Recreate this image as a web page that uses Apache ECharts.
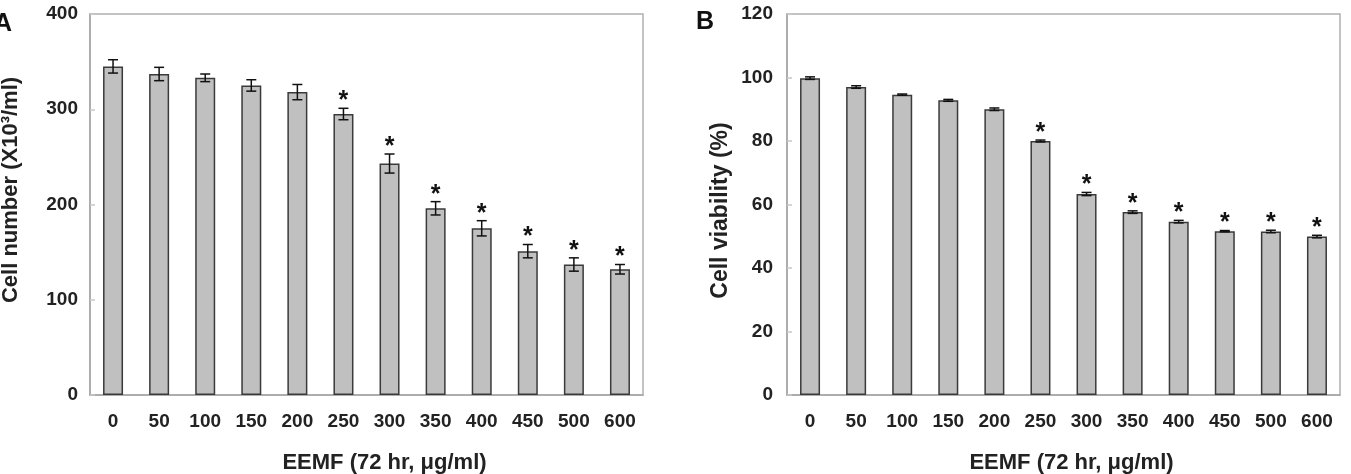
<!DOCTYPE html>
<html>
<head>
<meta charset="utf-8">
<title>EEMF cell number and viability</title>
<script src="https://cdn.jsdelivr.net/npm/echarts@6/dist/echarts.min.js"></script>
<style>
  html, body { margin: 0; padding: 0; background: #fff; }
  #chart { width: 1351px; height: 474px; }
</style>
</head>
<body>
<div id="chart"></div>
<script>
// EEMF dose (72 hr, ug/ml)
const doses = ['0', '50', '100', '150', '200', '250', '300', '350', '400', '450', '500', '600']

// panel A: cell number (x10^3/ml)
const cellNumber = [345, 337, 333, 325, 318, 295, 243, 196, 175, 151, 137, 132]
const cellNumberErr = [7, 7, 4, 6, 8, 6, 10, 7, 8, 7, 7, 5]
const cellNumberSig = [0, 0, 0, 0, 0, 1, 1, 1, 1, 1, 1, 1]

// panel B: cell viability (%)
const viability = [99.8, 97, 94.6, 92.8, 90, 80, 63.3, 57.6, 54.6, 51.6, 51.5, 49.9]
const viabilityErr = [0.4, 0.4, 0.2, 0.3, 0.4, 0.3, 0.5, 0.4, 0.4, 0.2, 0.4, 0.4]
const viabilitySig = [0, 0, 0, 0, 0, 1, 1, 1, 1, 1, 1, 1]

const font = "'Liberation Sans', Arial, sans-serif"
const axisGrey = '#a6a6a6'

// error bars + significance stars
const errorItem = (params, api) => {
  const idx = api.value(0)
  const mean = api.value(1)
  const err = api.value(2)
  const sig = api.value(3)
  const top = api.coord([idx, mean + err])
  const bot = api.coord([idx, mean - err])
  const cap = 5
  const children = [
    { type: 'line', shape: { x1: top[0], y1: top[1], x2: bot[0], y2: bot[1] }, style: { stroke: '#111', lineWidth: 1.5 } },
    { type: 'line', shape: { x1: top[0] - cap, y1: top[1], x2: top[0] + cap, y2: top[1] }, style: { stroke: '#111', lineWidth: 1.5 } },
    { type: 'line', shape: { x1: bot[0] - cap, y1: bot[1], x2: bot[0] + cap, y2: bot[1] }, style: { stroke: '#111', lineWidth: 1.5 } }
  ]
  if (sig) {
    children.push({
      type: 'text',
      style: {
        text: '*', x: top[0], y: top[1] - 7,
        fill: '#111', font: 'bold 25px ' + font,
        align: 'center', verticalAlign: 'middle'
      }
    })
  }
  return { type: 'group', children }
}

const errData = (mean, err, sig) => mean.map((v, i) => [i, v, err[i], sig[i]])

const makeX = (gridIndex, nameShift) => ({
  type: 'category',
  gridIndex,
  data: doses,
  boundaryGap: true,
  name: 'EEMF (72 hr, μg/ml)',
  nameLocation: 'middle',
  nameGap: 57,
  nameTextStyle: { fontFamily: font, fontWeight: 'bold', fontSize: 22, color: '#222', padding: [0, 0, 0, nameShift] },
  axisLine: { lineStyle: { color: axisGrey, width: 1.5 } },
  axisTick: { inside: true, length: 9, lineStyle: { color: '#c8c8c8', width: 1.5 } },
  axisLabel: { margin: 17, fontFamily: font, fontWeight: 'bold', fontSize: 19, color: '#222' },
  splitLine: { show: false }
})

const makeY = (gridIndex, max, interval, name, nameGap, labelMargin, nameSize, namePad) => ({
  type: 'value',
  gridIndex,
  min: 0,
  max,
  interval,
  name,
  nameLocation: 'middle',
  nameGap,
  nameTextStyle: { fontFamily: font, fontWeight: 'bold', fontSize: nameSize, color: '#222', padding: namePad },
  axisLine: { show: true, lineStyle: { color: axisGrey, width: 1.5 } },
  axisTick: { show: true, inside: true, length: 5, lineStyle: { color: '#c8c8c8', width: 1.5 } },
  axisLabel: { margin: labelMargin, fontFamily: font, fontWeight: 'bold', fontSize: 19, color: '#222' },
  splitLine: { show: false }
})

const chart = echarts.init(document.getElementById('chart'))

chart.setOption({
  animation: false,
  backgroundColor: '#fff',
  grid: [
    { left: 90, top: 14, width: 553, height: 381, containLabel: false, outerBoundsMode: 'none', show: true, borderColor: '#b0b0b0', borderWidth: 1.5 },
    { left: 787, top: 14, width: 553, height: 381, containLabel: false, outerBoundsMode: 'none', show: true, borderColor: '#b0b0b0', borderWidth: 1.5 }
  ],
  xAxis: [makeX(0, 36), makeX(1, 16)],
  yAxis: [
    makeY(0, 400, 100, 'Cell number (X10³/ml)', 68, 12, 22, [0, 0, 0, 29]),
    makeY(1, 120, 20, 'Cell viability (%)', 55, 14, 23, [0, 12, 0, 0])
  ],
  graphic: [
    { type: 'text', left: -6, top: 12, style: { text: 'A', font: 'bold 25px ' + font, fill: '#111' } },
    { type: 'text', left: 696, top: 10, style: { text: 'B', font: 'bold 25px ' + font, fill: '#111' } }
  ],
  series: [
    {
      type: 'bar', xAxisIndex: 0, yAxisIndex: 0, data: cellNumber, barWidth: 20,
      itemStyle: { color: '#c0c0c0', borderColor: '#3a3a3a', borderWidth: 1.5 }
    },
    {
      type: 'custom', xAxisIndex: 0, yAxisIndex: 0, renderItem: errorItem,
      data: errData(cellNumber, cellNumberErr, cellNumberSig), z: 5
    },
    {
      type: 'bar', xAxisIndex: 1, yAxisIndex: 1, data: viability, barWidth: 20,
      itemStyle: { color: '#c0c0c0', borderColor: '#3a3a3a', borderWidth: 1.5 }
    },
    {
      type: 'custom', xAxisIndex: 1, yAxisIndex: 1, renderItem: errorItem,
      data: errData(viability, viabilityErr, viabilitySig), z: 5
    }
  ]
})
</script>
</body>
</html>
